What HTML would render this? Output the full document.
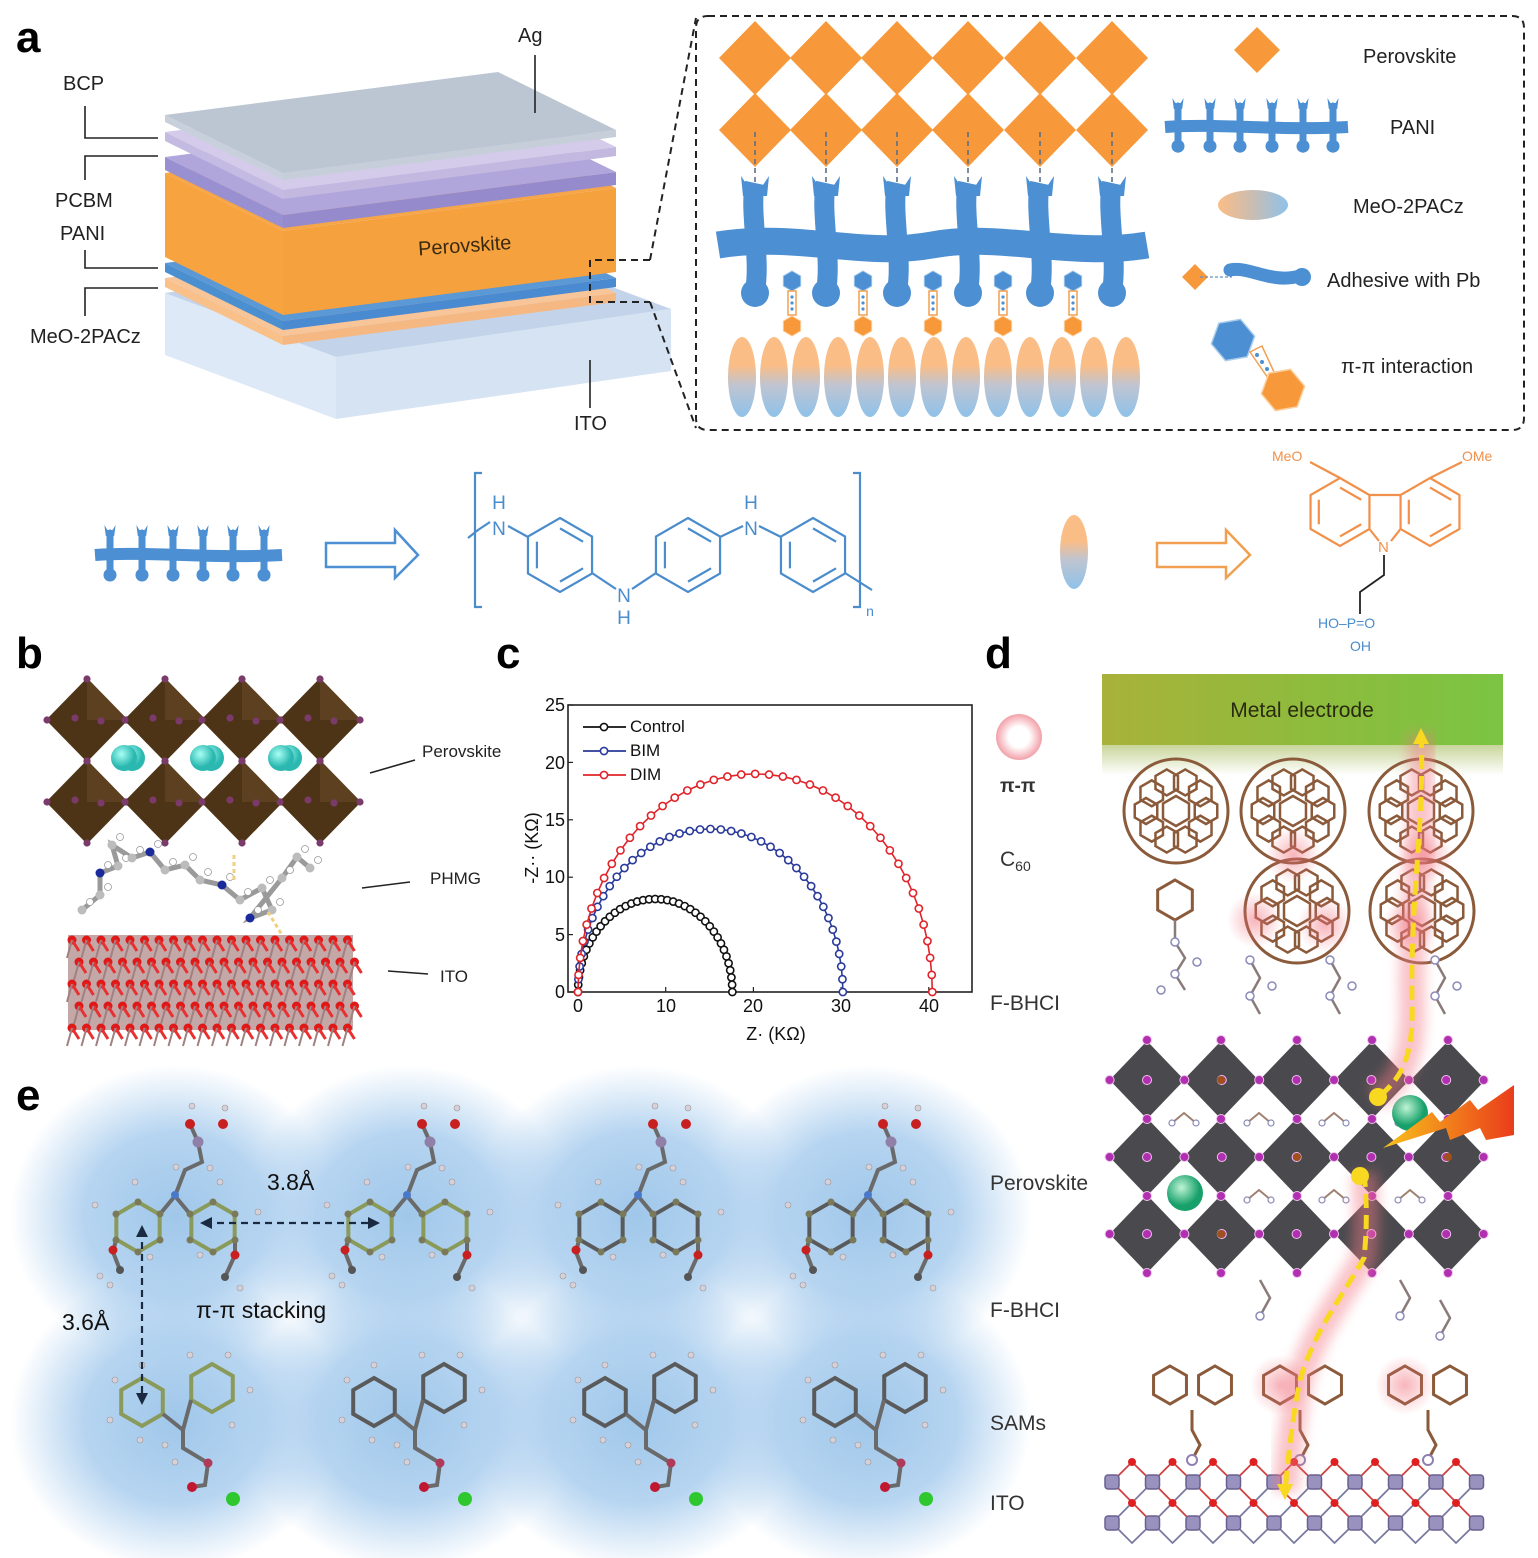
<!DOCTYPE html>
<html><head><meta charset="utf-8">
<style>
html,body{margin:0;padding:0;background:#fff;}
svg{display:block;}
text{font-family:"Liberation Sans",Arial,sans-serif;}
</style></head>
<body>
<svg id="s" xmlns="http://www.w3.org/2000/svg" width="1538" height="1558" viewBox="0 0 1538 1558">
<defs>
<linearGradient id="gOB" x1="0" y1="0" x2="0" y2="1"><stop offset="0" stop-color="#fbbd86"/><stop offset="0.35" stop-color="#fbbd86"/><stop offset="0.6" stop-color="#c0c4d0"/><stop offset="1" stop-color="#8ec2ea"/></linearGradient>
<linearGradient id="gOBh" x1="0" y1="0" x2="1" y2="0"><stop offset="0" stop-color="#fbbd86"/><stop offset="0.5" stop-color="#c9bdb3"/><stop offset="1" stop-color="#8ec2ea"/></linearGradient>
<linearGradient id="gGreen" x1="0" y1="0" x2="1" y2="0"><stop offset="0" stop-color="#a9b23a"/><stop offset="0.5" stop-color="#8fbb3c"/><stop offset="1" stop-color="#7bc443"/></linearGradient>
<linearGradient id="gFade" x1="0" y1="0" x2="0" y2="1"><stop offset="0" stop-color="#c8d59a"/><stop offset="1" stop-color="#ffffff"/></linearGradient>
<radialGradient id="gBlob"><stop offset="0" stop-color="#8fbde6"/><stop offset="0.55" stop-color="#a9cdee"/><stop offset="1" stop-color="#a9cdee" stop-opacity="0"/></radialGradient>
<radialGradient id="gPink"><stop offset="0.45" stop-color="#ffffff"/><stop offset="1" stop-color="#f2a0a8"/></radialGradient>
<radialGradient id="gGlow"><stop offset="0" stop-color="#f06b78" stop-opacity="0.5"/><stop offset="1" stop-color="#f06b78" stop-opacity="0"/></radialGradient>
<radialGradient id="gCyan" cx="0.4" cy="0.35"><stop offset="0" stop-color="#a8fff5"/><stop offset="1" stop-color="#2ab8b0"/></radialGradient>
<radialGradient id="gGrn" cx="0.4" cy="0.35"><stop offset="0" stop-color="#bff5d6"/><stop offset="1" stop-color="#17a06a"/></radialGradient>
<linearGradient id="gBolt" x1="0" y1="0" x2="1" y2="0"><stop offset="0" stop-color="#f9c21b"/><stop offset="1" stop-color="#ea3c1b"/></linearGradient>
<filter id="blur"><feGaussianBlur stdDeviation="6"/></filter>
</defs>
<g id="root"></g>

<g font-weight="bold" font-size="44" fill="#000">
<text x="16" y="52">a</text>
<text x="16" y="668">b</text>
<text x="496" y="668">c</text>
<text x="985" y="668">d</text>
<text x="16" y="1110">e</text>
</g>

<g font-size="20" fill="#222">
<text x="63" y="90">BCP</text>
<text x="55" y="207">PCBM</text>
<text x="60" y="240">PANI</text>
<text x="30" y="343">MeO-2PACz</text>
<text x="518" y="42">Ag</text>
<text x="574" y="430">ITO</text>
<text x="418" y="252" transform="rotate(-4 468 245)" font-size="20" fill="#3a2a10">Perovskite</text>
<text x="1363" y="63">Perovskite</text>
<text x="1390" y="134">PANI</text>
<text x="1353" y="213">MeO-2PACz</text>
<text x="1327" y="287">Adhesive with Pb</text>
<text x="1341" y="373">π-π interaction</text>
</g>

<g font-size="19" fill="#4a8ccc" text-anchor="middle">
<text x="499" y="509">H</text><text x="499" y="535">N</text>
<text x="624" y="602">N</text><text x="624" y="624">H</text>
<text x="751" y="509">H</text><text x="751" y="535">N</text>
<text x="870" y="616" font-size="14">n</text>
</g>
<g font-size="14" fill="#f0904a">
<text x="1272" y="461">MeO</text>
<text x="1462" y="461">OMe</text>
<text x="1378" y="552" font-size="15">N</text>
</g>
<g font-size="14" fill="#4a8ccc">
<text x="1318" y="628">HO–P=O</text>
<text x="1350" y="651">OH</text>
</g>

<g font-size="17" fill="#222">
<text x="422" y="757">Perovskite</text>
<text x="430" y="884">PHMG</text>
<text x="440" y="982">ITO</text>
</g>

<g font-size="17" fill="#111">
<text x="630" y="732">Control</text>
<text x="630" y="756">BIM</text>
<text x="630" y="780">DIM</text>
<g text-anchor="middle" font-size="18">
<text x="578" y="1012">0</text><text x="666" y="1012">10</text><text x="753" y="1012">20</text><text x="841" y="1012">30</text><text x="929" y="1012">40</text>
<text x="776" y="1040">Z· (KΩ)</text>
</g>
<g text-anchor="end" font-size="18">
<text x="565" y="998">0</text><text x="565" y="941">5</text><text x="565" y="883">10</text><text x="565" y="826">15</text><text x="565" y="769">20</text><text x="565" y="711">25</text>
</g>
<text x="0" y="0" font-size="18" transform="translate(538 848) rotate(-90)" text-anchor="middle">-Z·· (KΩ)</text>
</g>

<g font-size="21" fill="#333">
<text x="1000" y="792" font-size="19" font-weight="bold">π-π</text>
<text x="1000" y="866">C<tspan font-size="14" dy="5">60</tspan></text>
<text x="990" y="1010">F-BHCI</text>
<text x="990" y="1190">Perovskite</text>
<text x="990" y="1317">F-BHCI</text>
<text x="990" y="1430">SAMs</text>
<text x="990" y="1510">ITO</text>
</g>

<g font-size="23" fill="#111">
<text x="267" y="1190">3.8Å</text>
<text x="62" y="1330">3.6Å</text>
<text x="196" y="1318">π-π stacking</text>
</g>
<text x="1302" y="717" font-size="21" fill="#2a2a10" text-anchor="middle">Metal electrode</text>
</svg>
<script>
var NS="http://www.w3.org/2000/svg";
var root=document.getElementById('root');
function el(t,a,p){var e=document.createElementNS(NS,t);for(var k in a)e.setAttribute(k,a[k]);(p||root).appendChild(e);return e;}
function poly(pts,a,p){a=a||{};a.points=pts.map(function(q){return q[0]+','+q[1]}).join(' ');return el('polygon',a,p);}
function hex(cx,cy,r,a,p,rot){var pts=[];rot=rot||0;for(var i=0;i<6;i++){var t=(rot+60*i-90)*Math.PI/180;pts.push([cx+r*Math.cos(t),cy+r*Math.sin(t)]);}return poly(pts,a,p);}

[[175,1215],[407,1215],[637,1215],[867,1215],[175,1420],[407,1420],[637,1420],[867,1420]].forEach(function(c){
  el('ellipse',{cx:c[0],cy:c[1],rx:165,ry:150,fill:'url(#gBlob)',opacity:0.85});
});

function slab(x,y,t,ftop,fl,fr,dxN,dyN,dxF,dyF){
  var L=[x,y],F=[x+dxF,y+dyF],N=[x+dxN,y+dyN],R=[x+dxN+dxF,y+dyN+dyF];
  poly([L,N,[N[0],N[1]+t],[L[0],L[1]+t]],{fill:fl});
  poly([N,R,[R[0],R[1]+t],[N[0],N[1]+t]],{fill:fr});
  poly([L,F,R,N],{fill:ftop});
}
slab(165,293,62,'#c3d4ea','#dde9f6','#d5e3f3',171,64,335,-48);
slab(165,278,9,'#f8c598','#f9c08a','#f6b883',118,58,333,-43);
slab(165,263,9,'#5a98d6','#4a8fd0','#4a8ad0',118,58,333,-43);
slab(165,173,84,'#f6a648','#f7a340','#f5a13e',118,58,333,-43);
slab(165,157,13,'#b0a6dc','#9890d0','#958bcc',118,58,333,-43);
slab(165,132,9,'#d4cbea','#c4bbe2','#c2b8e0',118,58,333,-43);
slab(165,115,7,'#bcc6d3','#c8d0dc','#c6ced9',118,58,333,-43);
var ln={stroke:'#222','stroke-width':1.6,fill:'none'};
el('polyline',Object.assign({points:'85,106 85,138 158,138'},ln));
el('polyline',Object.assign({points:'158,156 85,156 85,180'},ln));
el('polyline',Object.assign({points:'85,250 85,268 158,268'},ln));
el('polyline',Object.assign({points:'158,288 85,288 85,316'},ln));
el('line',Object.assign({x1:535,y1:55,x2:535,y2:113},ln));
el('line',Object.assign({x1:590,y1:360,x2:590,y2:408},ln));
var dsh={stroke:'#222','stroke-width':2,fill:'none','stroke-dasharray':'7,5'};
el('polyline',Object.assign({points:'650,260 590,260 590,302 650,302'},dsh));
el('line',Object.assign({x1:650,y1:260,x2:696,y2:18},dsh));
el('line',Object.assign({x1:650,y1:302,x2:696,y2:428},dsh));
el('path',Object.assign({d:'M708,16 H1512 Q1524,16 1524,28 V418 Q1524,430 1512,430 H708 Q696,430 696,418 V28 Q696,16 708,16'},dsh));

var xs=[755,826,897,968,1040,1112];
[58,130].forEach(function(cy){xs.forEach(function(cx){poly([[cx,cy-37],[cx+36,cy],[cx,cy+37],[cx-36,cy]],{fill:'#f7993a'});});});
xs.forEach(function(cx){el('line',{x1:cx,y1:132,x2:cx,y2:190,stroke:'#5b6f8a','stroke-width':1.6,'stroke-dasharray':'5,4'});});
var blue='#4c8fd2';
el('path',{d:'M718,245 C800,232 860,258 932,245 C1000,232 1070,258 1147,245',stroke:blue,'stroke-width':27,fill:'none'});
xs.forEach(function(cx){
  el('path',{d:'M'+cx+',183 C'+(cx-6)+',210 '+(cx+6)+',260 '+cx+',290',stroke:blue,'stroke-width':20,fill:'none'});
  poly([[cx-14,176],[cx-6,188],[cx,183],[cx+6,188],[cx+14,176],[cx+12,196],[cx-12,196]],{fill:blue});
  el('circle',{cx:cx,cy:293,r:14,fill:blue});
});
[792,863,933,1003,1073].forEach(function(cx){
  hex(cx,281,10,{fill:'#4c8fd2',stroke:'#9cc4ec','stroke-width':1});
  el('rect',{x:cx-4,y:291,width:8,height:24,fill:'#fff',stroke:'#f0a050','stroke-width':1.5});
  [297,303,309].forEach(function(y){el('circle',{cx:cx,cy:y,r:1.6,fill:blue});});
  hex(cx,326,10,{fill:'#f7993a',stroke:'#fcd0a0','stroke-width':1});
});
for(var i=0;i<13;i++){el('ellipse',{cx:742+i*32,cy:377,rx:14,ry:40,fill:'url(#gOB)'});}
poly([[1257,27],[1280,50],[1257,73],[1234,50]],{fill:'#f7993a'});
function paniIcon(x0,x1,yb,sx,th,sw,br,st){
  el('path',{d:'M'+x0+','+yb+' C'+(x0+(x1-x0)*0.3)+','+(yb-4)+' '+(x0+(x1-x0)*0.6)+','+(yb+4)+' '+x1+','+yb,stroke:blue,'stroke-width':th,fill:'none'});
  sx.forEach(function(cx){
    el('line',{x1:cx,y1:yb-st,x2:cx,y2:yb+st*0.75,stroke:blue,'stroke-width':sw});
    poly([[cx-sw*0.8,yb-st-5],[cx-2,yb-st+1],[cx,yb-st-1],[cx+2,yb-st+1],[cx+sw*0.8,yb-st-5],[cx+sw*0.6,yb-st+6],[cx-sw*0.6,yb-st+6]],{fill:blue});
    el('circle',{cx:cx,cy:yb+st*0.8,r:br,fill:blue});
  });
}
paniIcon(1165,1348,127,[1178,1210,1240,1272,1303,1333],12,7,6.5,24);
paniIcon(95,282,555,[110,142,173,203,233,264],12,7,6.5,25);
el('ellipse',{cx:1253,cy:205,rx:35,ry:15,fill:'url(#gOBh)'});
poly([[1195,264],[1208,277],[1195,290],[1182,277]],{fill:'#f7993a'});
el('line',{x1:1200,y1:277,x2:1232,y2:277,stroke:'#6a8fc0','stroke-width':1.3,'stroke-dasharray':'3,2'});
el('path',{d:'M1230,270 C1250,266 1270,284 1300,276',stroke:blue,'stroke-width':13,fill:'none','stroke-linecap':'round'});
el('circle',{cx:1302,cy:277,r:9,fill:blue});
hex(1233,340,22,{fill:'#4c8fd2',stroke:'#aacdee','stroke-width':1.5},root,20);
el('polygon',{points:'1250,352 1268,378 1274,372 1262,346',fill:'#fff',stroke:'#f0a050','stroke-width':1.5});
[[1257,355],[1262,362],[1267,369]].forEach(function(p){el('circle',{cx:p[0],cy:p[1],r:2,fill:blue});});
hex(1283,390,22,{fill:'#f7993a',stroke:'#fcd0a0','stroke-width':1.5},root,20);

el('polygon',{points:'326,543 395,543 395,530 418,555 395,578 395,567 326,567',fill:'#fff',stroke:blue,'stroke-width':2.5});
el('polygon',{points:'1157,543 1226,543 1226,530 1250,555 1226,578 1226,567 1157,567',fill:'#fff',stroke:'#f0a050','stroke-width':2.5});
el('ellipse',{cx:1074,cy:552,rx:14,ry:37,fill:'url(#gOB)'});
var cs={stroke:'#4a8ccc','stroke-width':2.2,fill:'none'};
function ringD(cx,cy,r,st){hex(cx,cy,r,Object.assign({},st));
  var k=0.72;[[0,1],[2,3],[4,5]].forEach(function(pr){var a=[];for(var j=0;j<2;j++){var t=(60*pr[j]-90)*Math.PI/180;a.push([cx+r*k*Math.cos(t),cy+r*k*Math.sin(t)]);}
  el('line',Object.assign({x1:a[0][0],y1:a[0][1],x2:a[1][0],y2:a[1][1]},st));});}
[560,688,813].forEach(function(cx){ringD(cx,555,37,cs);});
el('path',Object.assign({d:'M482,473 H475 V607 H482 M853,473 H860 V607 H853'},cs));
el('polyline',Object.assign({points:'468,538 478,530 490,522'},cs));
el('line',Object.assign({x1:508,y1:526,x2:528,y2:537},cs));
el('line',Object.assign({x1:592,y1:573,x2:616,y2:589},cs));
el('line',Object.assign({x1:632,y1:589,x2:656,y2:573},cs));
el('line',Object.assign({x1:720,y1:537,x2:743,y2:526},cs));
el('line',Object.assign({x1:759,y1:526,x2:781,y2:537},cs));
el('line',Object.assign({x1:845,y1:573,x2:872,y2:590},cs));
// carbazole
var co={stroke:'#f0904a','stroke-width':2.2,fill:'none'};
ringD(1340,512,34,co);ringD(1430,512,34,co);
el('line',Object.assign({x1:1369.4,y1:495,x2:1400.6,y2:495},co));
el('polyline',Object.assign({points:'1369.4,529 1379,541'},co));
el('polyline',Object.assign({points:'1400.6,529 1391,541'},co));
el('line',Object.assign({x1:1340,y1:478,x2:1310,y2:462},co));
el('line',Object.assign({x1:1430,y1:478,x2:1462,y2:462},co));
el('polyline',{points:'1384,555 1384,575 1360,592 1360,614',stroke:'#222','stroke-width':1.8,fill:'none'});

/* panel b */
[[87,720],[165,720],[242,720],[320,720],[87,802],[165,802],[242,802],[320,802]].forEach(function(c){
  var x=c[0],y=c[1];
  poly([[x,y-42],[x+41,y],[x,y+42],[x-41,y]],{fill:'#4d3416'});
  poly([[x,y-42],[x+41,y],[x,y]],{fill:'#5c4020'});
  [[x,y-41],[x+40,y],[x,y+41],[x-40,y],[x-12,y-2],[x+14,y+1]].forEach(function(p){el('circle',{cx:p[0],cy:p[1],r:3.6,fill:'#7a3b6a'});});
});
[126,205,283].forEach(function(x){el('circle',{cx:x+6,cy:758,r:13,fill:'url(#gCyan)'});el('circle',{cx:x-2,cy:758,r:13,fill:'url(#gCyan)'});});
var mol=[[82,910],[100,895],[100,873],[118,866],[112,845],[132,858],[150,852],[165,870],[185,865],[200,880],[222,885],[240,900],[262,888],[272,910],[250,918],[282,878],[297,857],[310,868]];
el('polyline',{points:mol.map(function(p){return p.join(',')}).join(' '),stroke:'#9a9a9a','stroke-width':5,fill:'none'});
mol.forEach(function(p,i){el('circle',{cx:p[0],cy:p[1],r:4.5,fill:(i%4==2?'#1a2a9a':'#bcbcbc')});el('circle',{cx:p[0]+8,cy:p[1]-8,r:3.5,fill:'#fff',stroke:'#999','stroke-width':0.8});});
el('line',{x1:234,y1:855,x2:234,y2:880,stroke:'#f0d080','stroke-width':3,'stroke-dasharray':'4,3'});
el('line',{x1:268,y1:912,x2:282,y2:935,stroke:'#f0d080','stroke-width':3,'stroke-dasharray':'4,3'});
el('rect',{x:68,y:935,width:285,height:95,fill:'#c4a8a8'});
for(var r=0;r<5;r++)for(var c=0;c<20;c++){var xx=72+c*14.5+(r%2)*7,yy=940+r*22;
  el('circle',{cx:xx,cy:yy,r:4.5,fill:'#e01818'});
  el('line',{x1:xx,y1:yy,x2:xx+7,y2:yy+11,stroke:'#e83030','stroke-width':3});
  el('line',{x1:xx,y1:yy,x2:xx-5,y2:yy+18,stroke:'#a08080','stroke-width':2});}
el('line',Object.assign({x1:370,y1:773,x2:415,y2:760},ln));
el('line',Object.assign({x1:362,y1:888,x2:410,y2:882},ln));
el('line',Object.assign({x1:388,y1:971,x2:428,y2:974},ln));

/* panel c */
el('rect',{x:568,y:705,width:404,height:287,fill:'none',stroke:'#222','stroke-width':1.6});
function X(v){return 578+v*8.77;} function Y(v){return 992-v*11.48;}
[0,10,20,30,40].forEach(function(v){el('line',{x1:X(v),y1:992,x2:X(v),y2:987,stroke:'#222','stroke-width':1.2});});
[0,5,10,15,20,25].forEach(function(v){el('line',{x1:568,y1:Y(v),x2:573,y2:Y(v),stroke:'#222','stroke-width':1.2});});
function arc(end,h,col){var cx=end/2,r=end/2,pts=[];for(var i=0;i<=40;i++){var t=Math.PI*(1-i/40);pts.push([X(cx+r*Math.cos(t)),Y(h*Math.sin(t))]);}
  el('polyline',{points:pts.map(function(p){return p.join(',')}).join(' '),stroke:col,'stroke-width':1.6,fill:'none'});
  pts.forEach(function(p){el('circle',{cx:p[0],cy:p[1],r:3.6,fill:'#fff',stroke:col,'stroke-width':1.6});});}
arc(17.6,8.1,'#111');arc(30.2,14.2,'#2a3a9a');arc(40.4,19,'#e0242a');
[['#111',727],['#2a3a9a',751],['#e0242a',775]].forEach(function(a){el('line',{x1:583,y1:a[1],x2:626,y2:a[1],stroke:a[0],'stroke-width':1.8});el('circle',{cx:604,cy:a[1],r:3.6,fill:'#fff',stroke:a[0],'stroke-width':1.6});});

/* panel e */
var offs=[0,232,463,693];
offs.forEach(function(o,k){
  var g=el('g',{transform:'translate('+o+',0)'});
  var ringc=(k<2)?'#8a9a5a':'#5a5a5a';
  var bond={stroke:'#6a6a6a','stroke-width':4,fill:'none'};
  hex(138,1227,25,{fill:'none',stroke:ringc,'stroke-width':4},g);
  hex(213,1227,25,{fill:'none',stroke:ringc,'stroke-width':4},g);
  el('polyline',Object.assign({points:'160,1214 175,1196 190,1214'},bond),g);
  el('polyline',Object.assign({points:'175,1196 185,1170 202,1162 198,1142'},bond),g);
  el('polyline',Object.assign({points:'198,1142 190,1124 M198,1142 223,1124'},bond),g);
  el('polyline',Object.assign({points:'116,1240 113,1252 120,1270'},bond),g);
  el('polyline',Object.assign({points:'235,1240 235,1255 225,1277'},bond),g);
  [[138,1202],[160,1214],[160,1240],[138,1252],[116,1240],[116,1214],[213,1202],[235,1214],[235,1240],[213,1252],[190,1240],[190,1214]].forEach(function(p){el('circle',{cx:p[0],cy:p[1],r:3.5,fill:'#7a7a5a'},g);});
  el('circle',{cx:175,cy:1195,r:4,fill:'#4a78c8'},g);
  el('circle',{cx:198,cy:1142,r:5.5,fill:'#9080a8'},g);
  el('circle',{cx:190,cy:1124,r:5,fill:'#c82020'},g);el('circle',{cx:223,cy:1124,r:5,fill:'#c82020'},g);
  el('circle',{cx:113,cy:1250,r:4.5,fill:'#c82020'},g);el('circle',{cx:235,cy:1255,r:4.5,fill:'#c82020'},g);
  el('circle',{cx:120,cy:1270,r:4,fill:'#555'},g);el('circle',{cx:225,cy:1277,r:4,fill:'#555'},g);
  [[192,1106],[225,1108],[135,1182],[220,1182],[95,1205],[258,1212],[100,1276],[110,1285],[240,1288],[150,1257],[200,1255],[176,1167],[210,1168]].forEach(function(p){el('circle',{cx:p[0],cy:p[1],r:3,fill:'#d8d0d8',stroke:'#999','stroke-width':0.6},g);});
  var rc2=(k==0)?'#8a9a5a':'#5a5a5a';
  hex(142,1402,24,{fill:'none',stroke:rc2,'stroke-width':4},g);
  hex(212,1388,24,{fill:'none',stroke:rc2,'stroke-width':4},g);
  el('polyline',Object.assign({points:'163,1414 183,1430 191,1400'},bond),g);
  el('polyline',Object.assign({points:'183,1430 183,1448 208,1463 205,1485 192,1487 M205,1485 233,1498'},bond),g);
  el('circle',{cx:208,cy:1463,r:4.5,fill:'#b03a5a'},g);
  el('circle',{cx:192,cy:1487,r:5,fill:'#c01830'},g);
  el('circle',{cx:233,cy:1499,r:7,fill:'#2ec82e'},g);
  [[142,1365],[115,1380],[110,1420],[140,1440],[190,1355],[228,1355],[250,1390],[232,1425],[165,1445],[175,1462]].forEach(function(p){el('circle',{cx:p[0],cy:p[1],r:3,fill:'#d8d0d8',stroke:'#999','stroke-width':0.6},g);});
});
var ar={stroke:'#1a2a40','stroke-width':2.2,'stroke-dasharray':'7,5',fill:'none'};
el('line',Object.assign({x1:205,y1:1223,x2:375,y2:1223},ar));
el('polygon',{points:'200,1223 212,1217 212,1229',fill:'#1a2a40'});
el('polygon',{points:'380,1223 368,1217 368,1229',fill:'#1a2a40'});
el('line',Object.assign({x1:142,y1:1230,x2:142,y2:1398},ar));
el('polygon',{points:'142,1225 136,1237 148,1237',fill:'#1a2a40'});
el('polygon',{points:'142,1405 136,1393 148,1393',fill:'#1a2a40'});

/* panel d */
el('circle',{cx:1019,cy:737,r:23,fill:'url(#gPink)'});
el('rect',{x:1102,y:674,width:401,height:71,fill:'url(#gGreen)'});
el('rect',{x:1102,y:745,width:401,height:30,fill:'url(#gFade)'});
function fuller(cx,cy){var g=el('g',{});el('circle',{cx:cx,cy:cy,r:52,fill:'none',stroke:'#8a5a3a','stroke-width':3},g);
  for(var i=0;i<10;i++){var t=i*36*Math.PI/180;hex(cx+30*Math.cos(t),cy+30*Math.sin(t),13,{fill:'none',stroke:'#8a5a3a','stroke-width':2.5},g);}
  hex(cx,cy,15,{fill:'none',stroke:'#8a5a3a','stroke-width':2.5},g);}
[[1176,811],[1293,811],[1421,811],[1297,911],[1422,911]].forEach(function(c){fuller(c[0],c[1]);});
[[1293,855],[1255,920],[1325,925],[1425,855],[1410,925]].forEach(function(c){el('circle',{cx:c[0],cy:c[1],r:28,fill:'url(#gGlow)'});});
function smallMol(cx,cy){hex(cx,cy,20,{fill:'none',stroke:'#8a5a3a','stroke-width':3});
  el('polyline',{points:[cx,cy+20,cx,cy+42,cx+10,cy+58,cx,cy+74,cx+10,cy+90].join(','),stroke:'#8a7a7a','stroke-width':2.5,fill:'none'});
  [[cx,cy+42],[cx,cy+74],[cx+22,cy+62],[cx-14,cy+90]].forEach(function(p){el('circle',{cx:p[0],cy:p[1],r:4,fill:'#fff',stroke:'#8a8ab8','stroke-width':1.5});});}
smallMol(1175,900);
[[1250,960],[1330,960],[1435,960]].forEach(function(c){el('polyline',{points:[c[0],c[1],c[0]+10,c[1]+18,c[0],c[1]+36,c[0]+10,c[1]+54].join(','),stroke:'#8a7a7a','stroke-width':2.5,fill:'none'});[[c[0],c[1]],[c[0],c[1]+36],[c[0]+22,c[1]+26]].forEach(function(p){el('circle',{cx:p[0],cy:p[1],r:4,fill:'#fff',stroke:'#8a8ab8','stroke-width':1.5});});});
// perovskite lattice: diamonds stacked at same x
var dcx=[1147,1221,1297,1372,1448];
[1080,1157,1234].forEach(function(cy){dcx.forEach(function(cx){poly([[cx,cy-39],[cx+37.4,cy],[cx,cy+39],[cx-37.4,cy]],{fill:'#4a4a4e'});});});
// small molecules in gaps
[1184,1259,1334,1410].forEach(function(x){[1119,1196].forEach(function(y){
  el('polyline',{points:[x-12,y+4,x,y-6,x+12,y+4].join(','),stroke:'#a08070','stroke-width':2,fill:'none'});
  el('circle',{cx:x-12,cy:y+4,r:3,fill:'#fff',stroke:'#8a8ab8','stroke-width':1.2});el('circle',{cx:x+12,cy:y+4,r:3,fill:'#fff',stroke:'#8a8ab8','stroke-width':1.2});});});
var dotx=[];for(var i=0;i<11;i++)dotx.push(1109.6+i*37.4);
[1080,1157,1234].forEach(function(y){dotx.forEach(function(x){el('circle',{cx:x,cy:y,r:4.5,fill:'#b030b0',stroke:'#f0c0f0','stroke-width':1});});});
[1040,1119,1196,1273].forEach(function(y){dcx.forEach(function(x){el('circle',{cx:x,cy:y,r:4.5,fill:'#b030b0',stroke:'#f0c0f0','stroke-width':1});});});
[[1221,1080],[1297,1157],[1448,1157],[1221,1234]].forEach(function(p){el('circle',{cx:p[0],cy:p[1],r:4,fill:'#a0501a'});});
el('circle',{cx:1185,cy:1193,r:18,fill:'url(#gGrn)'});
el('circle',{cx:1410,cy:1113,r:18,fill:'url(#gGrn)'});
[[1170,1385],[1215,1385],[1280,1385],[1325,1385],[1405,1385],[1450,1385]].forEach(function(c){hex(c[0],c[1],19,{fill:'none',stroke:'#8a5a3a','stroke-width':3});});
[[1280,1385],[1405,1385]].forEach(function(c){el('circle',{cx:c[0],cy:c[1],r:30,fill:'url(#gGlow)'});});
[1192,1300,1428].forEach(function(x){el('polyline',{points:[x,1410,x,1430,x+8,1445,x,1460].join(','),stroke:'#8a5a3a','stroke-width':3,fill:'none'});el('circle',{cx:x,cy:1460,r:5,fill:'#fff',stroke:'#9080b0','stroke-width':2});});
[[1260,1280],[1400,1280],[1440,1300]].forEach(function(c){el('polyline',{points:[c[0],c[1],c[0]+10,c[1]+18,c[0],c[1]+36].join(','),stroke:'#8a7a7a','stroke-width':2.5,fill:'none'});el('circle',{cx:c[0],cy:c[1]+36,r:4,fill:'#fff',stroke:'#8a8ab8','stroke-width':1.5});});
// ITO lattice
for(var i=0;i<9;i++){var x=1112+i*40.5;
  el('polyline',{points:[x,1482,x+20,1462,x+40.5,1482].join(','),stroke:'#d04040','stroke-width':1.8,fill:'none'});
  el('line',{x1:x,y1:1482,x2:x+40.5,y2:1523,stroke:'#d04040','stroke-width':1.8});
  el('line',{x1:x+40.5,y1:1482,x2:x,y2:1523,stroke:'#7a7aa0','stroke-width':1.8});
  el('polyline',{points:[x,1523,x+20,1543,x+40.5,1523].join(','),stroke:'#7a7aa0','stroke-width':1.8,fill:'none'});
  el('circle',{cx:x+20,cy:1462,r:4,fill:'#e02020'});el('circle',{cx:x+20,cy:1503,r:4,fill:'#e02020'});
}
for(var i=0;i<10;i++){var x=1112+i*40.5;[1482,1523].forEach(function(y){el('rect',{x:x-7,y:y-7,width:14,height:14,rx:3,fill:'#9a92be',stroke:'#6a6090','stroke-width':1.5});});}
var pth='M1421,734 C1425,820 1410,900 1412,1002 C1414,1060 1400,1080 1376,1099 M1364,1173 C1368,1210 1366,1240 1364,1258 C1340,1300 1315,1330 1300,1380 C1292,1420 1288,1460 1285,1492';
el('path',{d:pth,stroke:'#f27a86','stroke-width':26,fill:'none',opacity:0.45,filter:'url(#blur)'});
el('path',{d:pth,stroke:'#f8d820','stroke-width':5,fill:'none','stroke-dasharray':'14,7'});
el('circle',{cx:1378,cy:1097,r:9,fill:'#f8d820'});
el('circle',{cx:1360,cy:1176,r:9,fill:'#f8d820'});
el('polygon',{points:'1421,728 1413,744 1429,744',fill:'#f8d820'});
el('polygon',{points:'1285,1500 1277,1484 1293,1484',fill:'#f8d820'});
el('polygon',{points:'1383,1148 1432,1112 1440,1122 1470,1100 1478,1110 1514,1085 1514,1135 1486,1140 1480,1128 1450,1140 1446,1128',fill:'url(#gBolt)'});
</script>
</body></html>
